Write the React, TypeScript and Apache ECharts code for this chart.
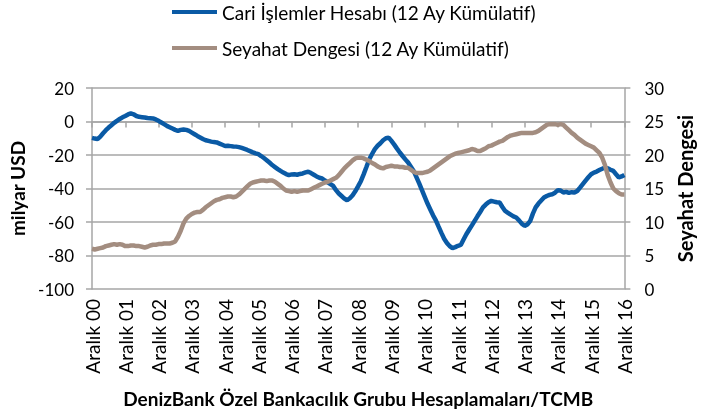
import React, { useEffect, useRef } from "react";
import * as echarts from "echarts";

// Month names (Turkish) and years: monthly categories from Aralık 2000 to Aralık 2016
const monthNames = ["Ocak", "Şubat", "Mart", "Nisan", "Mayıs", "Haziran", "Temmuz", "Ağustos", "Eylül", "Ekim", "Kasım", "Aralık"];
const yearLabels = ["00", "01", "02", "03", "04", "05", "06", "07", "08", "09", "10", "11", "12", "13", "14", "15", "16"];

// Cari İşlemler Hesabı (12 Ay Kümülatif), milyar USD, monthly from Aralık 00
const cariIslemler = [
  -9.8, -10.2, -10.5, -9.0, -7.0, -5.2, -3.6, -2.2, -0.8, 0.4, 1.5, 2.5, 3.3,
  4.2, 4.8, 4.3, 3.3, 2.8, 2.6, 2.4, 2.1, 2.0, 1.8, 1.2, 0.4,
  -0.6, -1.6, -2.6, -3.4, -4.2, -5.0, -5.6, -5.0, -4.8, -5.0, -5.6, -6.6,
  -7.6, -8.6, -9.5, -10.4, -11.2, -11.6, -12.0, -12.3, -12.5, -13.2, -13.9, -14.6,
  -14.5, -14.7, -14.9, -15.0, -15.3, -15.8, -16.4, -17.0, -17.7, -18.4, -19.0, -19.5,
  -20.6, -21.8, -23.1, -24.5, -26.0, -27.2, -28.4, -29.5, -30.5, -31.4, -32.0, -31.6,
  -31.5, -31.8, -31.3, -31.0, -30.4, -30.0, -30.8, -31.8, -32.8, -33.6, -34.0, -35.2,
  -36.3, -37.4, -38.5, -41.0, -43.0, -44.5, -46.0, -47.0, -45.8, -44.0, -41.5, -38.6,
  -35.5, -31.4, -27.0, -22.5, -19.4, -16.5, -14.5, -13.0, -11.2, -10.0, -9.6, -11.6,
  -13.8, -16.2, -18.5, -20.6, -22.6, -24.5, -27.0, -29.5, -33.2, -37.0, -41.0, -45.0,
  -49.0, -52.5, -56.0, -59.0, -62.8, -66.5, -70.0, -72.5, -74.4, -75.6, -75.0, -74.2,
  -73.7, -70.5, -67.3, -64.6, -62.0, -59.3, -56.6, -54.0, -51.3, -49.6, -48.2, -47.4,
  -47.8, -48.2, -48.4, -51.0, -53.4, -54.5, -55.6, -56.6, -57.3, -59.0, -61.0, -62.3,
  -61.5, -59.5, -55.0, -51.3, -49.0, -47.2, -45.4, -44.5, -43.8, -43.4, -42.5, -41.0,
  -41.2, -42.4, -42.0, -42.6, -42.2, -42.4, -41.5, -39.5, -37.4, -35.3, -33.3, -31.5,
  -30.5, -29.9, -29.0, -28.2, -27.5, -28.0, -28.8, -29.5, -31.5, -33.4, -32.8, -31.9,
];

// Seyahat Dengesi (12 Ay Kümülatif), right axis, monthly from Aralık 00
const seyahatDengesi = [
  6.0, 5.9, 6.0, 6.1, 6.2, 6.4, 6.5, 6.6, 6.7, 6.6, 6.7, 6.6, 6.4,
  6.4, 6.5, 6.5, 6.4, 6.4, 6.3, 6.2, 6.3, 6.5, 6.6, 6.6, 6.7,
  6.7, 6.8, 6.8, 6.8, 6.9, 7.1, 7.8, 8.7, 9.8, 10.5, 10.9, 11.2,
  11.4, 11.5, 11.5, 11.8, 12.2, 12.5, 12.8, 13.1, 13.3, 13.4, 13.6, 13.7,
  13.8, 13.8, 13.7, 13.8, 14.1, 14.5, 14.9, 15.3, 15.7, 15.9, 16.0, 16.1,
  16.2, 16.2, 16.1, 16.2, 16.2, 16.0, 15.7, 15.4, 15.0, 14.7, 14.6, 14.5,
  14.6, 14.5, 14.6, 14.7, 14.7, 14.7, 14.9, 15.1, 15.3, 15.5, 15.7, 15.9,
  16.0, 16.2, 16.4, 16.6, 17.0, 17.5, 18.0, 18.4, 18.8, 19.2, 19.5, 19.6,
  19.6, 19.5, 19.3, 19.1, 18.8, 18.6, 18.3, 18.1, 18.0, 18.2, 18.3, 18.4,
  18.3, 18.3, 18.2, 18.2, 18.1, 18.1, 17.8, 17.5, 17.3, 17.3, 17.3, 17.4,
  17.5, 17.7, 18.0, 18.3, 18.6, 18.9, 19.2, 19.5, 19.8, 20.0, 20.2, 20.3,
  20.4, 20.5, 20.6, 20.7, 20.9, 20.8, 20.6, 20.6, 20.8, 21.0, 21.3, 21.4,
  21.6, 21.8, 22.0, 22.1, 22.4, 22.7, 22.9, 23.0, 23.1, 23.2, 23.3, 23.3,
  23.3, 23.3, 23.3, 23.4, 23.6, 23.9, 24.2, 24.5, 24.6, 24.6, 24.6, 24.5,
  24.6, 24.5, 24.1, 23.7, 23.3, 23.0, 22.6, 22.3, 22.0, 21.7, 21.5, 21.3,
  21.1, 20.7, 20.3, 19.6, 18.5, 17.0, 15.9, 15.0, 14.6, 14.3, 14.1, 14.1,
];

const seriesNames = ["Cari İşlemler Hesabı (12 Ay Kümülatif)", "Seyahat Dengesi (12 Ay Kümülatif)"];
const leftAxisName = "milyar USD";
const rightAxisName = "Seyahat Dengesi";
const sourceName = "DenizBank Özel Bankacılık Grubu Hesaplamaları/TCMB";

const categories: string[] = [];
categories.push("Aralık " + yearLabels[0]);
for (let y = 1; y < yearLabels.length; y++) {
  for (let m = 0; m < 12; m++) categories.push(monthNames[m] + " " + yearLabels[y]);
}

const FONT = "Lato, 'Open Sans', sans-serif";
const GRAY = "#a6a6a6";

export default function App() {
  const ref = useRef<HTMLDivElement>(null);
  useEffect(() => {
    if (!ref.current) return;
    const chart = echarts.init(ref.current, undefined, { renderer: "svg" });
    const isYearEnd = (i: number) => i % 12 === 0;
    chart.setOption({
      animation: false,
      textStyle: { fontFamily: FONT },
      legend: {
        orient: "vertical",
        left: 172,
        top: 1,
        padding: 0,
        itemWidth: 45,
        itemHeight: 4,
        itemGap: 14,
        icon: "rect",
        textStyle: { fontFamily: FONT, fontSize: 19, color: "#000", lineHeight: 22 },
        data: seriesNames,
      },
      grid: { left: 92, right: 70, top: 88, bottom: 125, containLabel: false },
      xAxis: [
        {
          type: "category",
          data: categories,
          boundaryGap: false,
          axisLine: { show: true, onZero: true, onZeroAxisIndex: 0, lineStyle: { color: GRAY, width: 1.5 } },
          axisTick: { show: true, interval: (i: number) => isYearEnd(i), length: 6, lineStyle: { color: GRAY, width: 1.5 } },
          axisLabel: { show: false },
          splitLine: { show: false },
        },
        {
          type: "category",
          data: categories,
          boundaryGap: false,
          position: "bottom",
          axisLine: { show: false, onZero: false },
          axisTick: { show: false },
          axisLabel: {
            show: true,
            interval: (i: number) => isYearEnd(i),
            rotate: 90,
            margin: 10,
            fontSize: 19,
            fontFamily: FONT,
            color: "#000",
          },
          splitLine: { show: false },
          name: sourceName,
          nameLocation: "middle",
          nameGap: 100,
          nameTextStyle: { fontFamily: FONT, fontSize: 19, fontWeight: "bold", color: "#000" },
        },
      ],
      yAxis: [
        {
          type: "value",
          min: -100,
          max: 20,
          interval: 20,
          position: "left",
          axisLine: { show: true, onZero: false, lineStyle: { color: GRAY, width: 1.5 } },
          axisTick: { show: true, length: 6, lineStyle: { color: GRAY, width: 1.5 } },
          axisLabel: { margin: 18, fontSize: 17, fontFamily: FONT, color: "#000" },
          splitLine: { show: true, lineStyle: { color: GRAY, width: 1.5 } },
          name: leftAxisName,
          nameLocation: "middle",
          nameRotate: 90,
          nameGap: 64,
          nameTextStyle: { fontFamily: FONT, fontSize: 19, fontWeight: "bold", color: "#000" },
        },
        {
          type: "value",
          min: 0,
          max: 30,
          interval: 5,
          position: "right",
          axisLine: { show: true, onZero: false, lineStyle: { color: GRAY, width: 1.5 } },
          axisTick: { show: true, length: 6, lineStyle: { color: GRAY, width: 1.5 } },
          axisLabel: { margin: 20, fontSize: 17, fontFamily: FONT, color: "#000" },
          splitLine: { show: false },
          name: rightAxisName,
          nameLocation: "middle",
          nameRotate: 90,
          nameGap: 47,
          nameTextStyle: { fontFamily: FONT, fontSize: 20, fontWeight: "bold", color: "#000" },
        },
      ],
      series: [
        {
          name: seriesNames[0],
          type: "line",
          xAxisIndex: 0,
          yAxisIndex: 0,
          data: cariIslemler,
          showSymbol: false,
          symbol: "none",
          lineStyle: { color: "#0a5aa5", width: 4.5 },
          itemStyle: { color: "#0a5aa5" },
        },
        {
          name: seriesNames[1],
          type: "line",
          xAxisIndex: 0,
          yAxisIndex: 1,
          data: seyahatDengesi,
          showSymbol: false,
          symbol: "none",
          lineStyle: { color: "#a38d80", width: 4.5 },
          itemStyle: { color: "#a38d80" },
        },
      ],
    });
    return () => chart.dispose();
  }, []);
  return <div ref={ref} style={{ position: "fixed", left: 0, top: 0, width: 703, height: 414 }} />;
}
